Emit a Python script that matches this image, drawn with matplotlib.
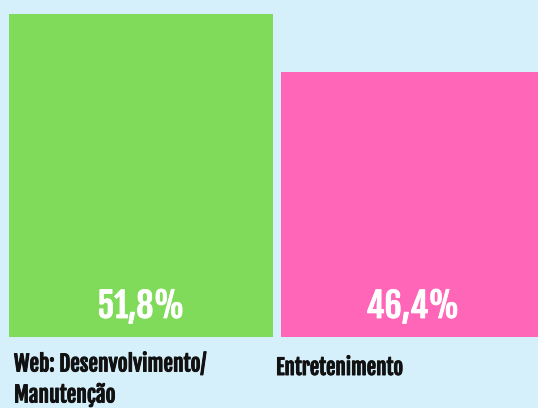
import matplotlib
matplotlib.use("Agg")
import matplotlib.pyplot as plt
import matplotlib.patheffects as pe

categories = ["Web: Desenvolvimento/\nManutenção", "Entretenimento"]
values = [51.8, 46.4]
value_labels = ["51,8%", "46,4%"]
colors = ["#80db5a", "#ff66b8"]
bg = "#d5f0fb"

W, H = 538, 408
fam = ["Fjalla One", "DejaVu Sans"]

fig = plt.figure(figsize=(W / 100, H / 100), dpi=100, facecolor=bg)
ax = fig.add_axes([0, 1 - 337 / H, 1, 337 / H])
ax.set_facecolor(bg)
x = list(range(len(values)))
ax.bar(x, values, width=264 / 272, color=colors)
ax.set_xlim(-0.518, 1.46)
ax.set_ylim(21.7, 53.1)
ax.axis("off")

val_base_px = 318
for xi, lab in zip(x, value_labels):
    xf = ax.transData.transform((xi, 0))[0] / W
    fig.text(xf, 1 - val_base_px / H, lab, ha="center", va="baseline",
             color="white", fontsize=24.5, family=fam,
             path_effects=[pe.withStroke(linewidth=0.6, foreground="white")])

bold = [pe.withStroke(linewidth=0.7, foreground="#111111")]
lines0 = categories[0].split("\n")
fig.text(14 / W, 1 - 371.5 / H, lines0[0], ha="left", va="baseline",
         fontsize=15.5, family=fam, color="#111111", path_effects=bold)
fig.text(14 / W, 1 - 402.5 / H, lines0[1], ha="left", va="baseline",
         fontsize=15.5, family=fam, color="#111111", path_effects=bold)
fig.text(276 / W, 1 - 375 / H, categories[1], ha="left", va="baseline",
         fontsize=15.2, family=fam, color="#111111", path_effects=bold)

fig.savefig("out.png", dpi=100, facecolor=bg)
